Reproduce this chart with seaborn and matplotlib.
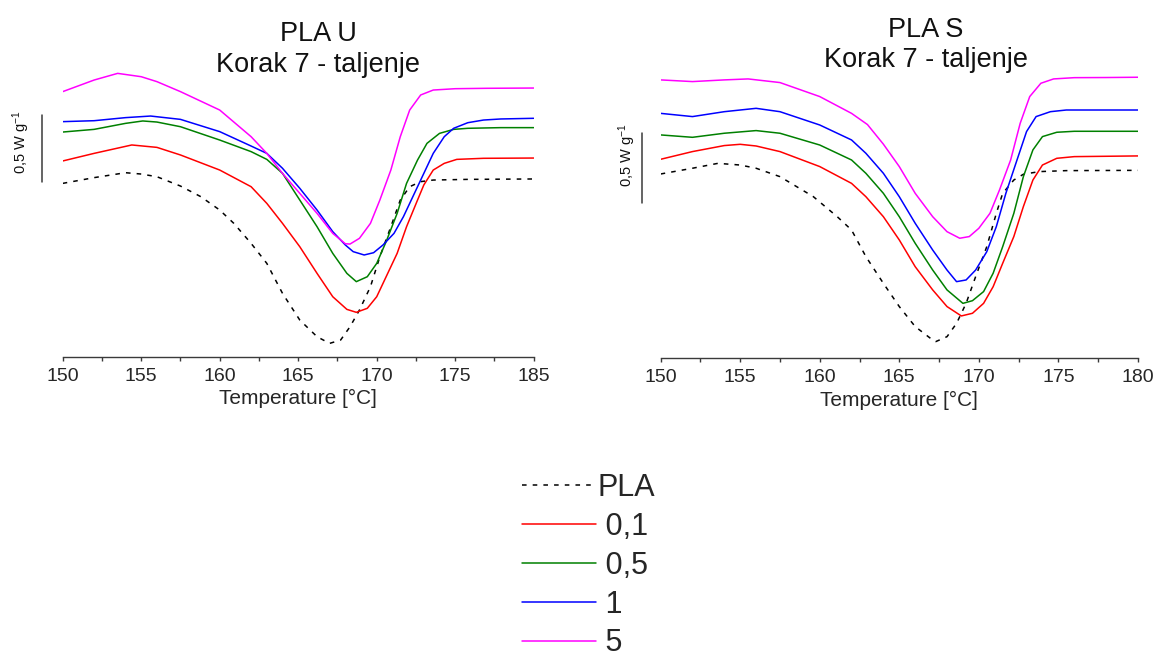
import matplotlib
matplotlib.use("Agg")
import matplotlib.pyplot as plt
import matplotlib.transforms as mtransforms
from matplotlib.ticker import FixedLocator
import seaborn as sns

# ---------------- data: heat flow (W/g, arbitrary offset) vs temperature (°C) ----------------
# Left panel: PLA U
u_pla_x = [150, 152, 154, 155, 156, 157.5, 158.8, 160, 160.9, 162, 163, 164, 165.1, 166.2, 167,
           167.7, 168.3, 168.9, 169.6, 170.2, 170.9, 171.5, 172.1, 172.8, 173.6, 175.8, 180]
u_pla_y = [1.25, 1.293, 1.33, 1.32, 1.3, 1.23, 1.15, 1.05, 0.95, 0.8, 0.65, 0.425, 0.225, 0.1, 0.05,
           0.075, 0.175, 0.3, 0.475, 0.7, 0.925, 1.125, 1.225, 1.263, 1.275, 1.28, 1.283]
u_01_x = [150, 152, 154.4, 156, 157.5, 160, 162, 163, 164, 165.1, 166.2, 167.2, 168.1, 168.7,
          169.4, 170, 170.6, 171.3, 171.9, 172.6, 173, 173.6, 174.3, 175.1, 176.8, 180]
u_01_y = [1.418, 1.475, 1.538, 1.52, 1.463, 1.35, 1.225, 1.1, 0.95, 0.775, 0.575, 0.4, 0.305, 0.283,
          0.313, 0.4, 0.55, 0.725, 0.925, 1.125, 1.238, 1.35, 1.4, 1.43, 1.438, 1.44]
u_05_x = [150, 152, 154, 155.1, 156, 157.5, 160, 162, 163, 164, 165.1, 166.2, 167.2, 168.1, 168.7,
          169.4, 170, 170.6, 171.3, 171.9, 172.6, 173.2, 174, 174.9, 175.8, 177.9, 180]
u_05_y = [1.635, 1.655, 1.7, 1.718, 1.71, 1.675, 1.575, 1.488, 1.43, 1.325, 1.125, 0.925, 0.725, 0.575, 0.513,
          0.55, 0.65, 0.813, 1.025, 1.25, 1.425, 1.55, 1.625, 1.655, 1.663, 1.668, 1.668]
u_1_x = [150, 152, 154, 155.6, 157.5, 160, 162, 163, 164, 165.1, 166.2, 167.2, 168, 168.5, 169.2,
         169.8, 170.4, 171.1, 171.7, 172.3, 173, 173.6, 174.3, 174.9, 175.8, 176.8, 177.9, 180]
u_1_y = [1.713, 1.72, 1.743, 1.755, 1.73, 1.638, 1.53, 1.475, 1.363, 1.213, 1.05, 0.888, 0.788, 0.738, 0.713,
         0.73, 0.788, 0.875, 1.0, 1.15, 1.325, 1.475, 1.6, 1.663, 1.705, 1.725, 1.733, 1.738]
u_5_x = [150, 152, 153.5, 155, 156, 157.5, 160, 162, 163, 164, 165.1, 166.2, 167.2, 168, 168.3,
         168.9, 169.6, 170.2, 170.9, 171.5, 172.1, 172.8, 173.6, 175, 177, 180]
u_5_y = [1.938, 2.025, 2.075, 2.05, 2.013, 1.938, 1.8, 1.6, 1.475, 1.325, 1.175, 1.025, 0.875, 0.797, 0.795,
         0.838, 0.95, 1.125, 1.35, 1.6, 1.8, 1.913, 1.95, 1.96, 1.963, 1.965]

# Right panel: PLA S
s_pla_x = [150, 152, 153.6, 155, 156, 157.5, 159.6, 161.1, 162, 162.9, 164, 165, 166, 167.1, 167.3,
           168, 168.6, 169.2, 169.8, 170.5, 171.1, 171.5, 172.2, 172.8, 173.8, 175.5, 180]
s_pla_y = [1.257, 1.298, 1.333, 1.321, 1.298, 1.238, 1.095, 0.952, 0.857, 0.667, 0.476, 0.31, 0.167, 0.071, 0.06,
           0.095, 0.19, 0.333, 0.524, 0.738, 0.976, 1.119, 1.214, 1.255, 1.274, 1.281, 1.283]
s_01_x = [150, 152, 154, 155, 156, 157.5, 160, 162, 162.9, 164, 165, 166, 167.1, 168, 168.9,
          169.6, 170.3, 170.9, 171.5, 172.2, 172.8, 173.4, 174, 174.9, 176, 177.6, 180]
s_01_y = [1.362, 1.417, 1.46, 1.469, 1.457, 1.417, 1.31, 1.19, 1.095, 0.952, 0.786, 0.595, 0.429, 0.31, 0.243,
          0.262, 0.333, 0.452, 0.619, 0.81, 1.024, 1.214, 1.321, 1.369, 1.381, 1.383, 1.386]
s_05_x = [150, 152, 154, 156, 157.5, 160, 162, 162.9, 164, 165, 166, 167.1, 168, 169, 169.6,
          170.3, 170.9, 171.5, 172.2, 172.8, 173.4, 174, 174.9, 176, 180]
s_05_y = [1.536, 1.519, 1.548, 1.567, 1.548, 1.464, 1.357, 1.262, 1.119, 0.952, 0.762, 0.571, 0.429, 0.333, 0.352,
          0.417, 0.548, 0.738, 0.976, 1.238, 1.429, 1.524, 1.555, 1.562, 1.562]
s_1_x = [150, 152, 154, 156, 157.5, 160, 162, 162.9, 164, 165, 166, 167.1, 168, 168.6, 169.2,
         169.8, 170.5, 171.1, 171.7, 172.4, 173, 173.6, 174.5, 175.5, 180]
s_1_y = [1.69, 1.667, 1.702, 1.726, 1.702, 1.607, 1.5, 1.405, 1.262, 1.095, 0.905, 0.714, 0.571, 0.488, 0.5,
         0.571, 0.702, 0.881, 1.119, 1.357, 1.56, 1.667, 1.702, 1.714, 1.714]
s_5_x = [150, 152, 154, 155.5, 157.5, 160, 162, 163, 164, 165, 166, 167.1, 168, 168.8, 169.4,
         170, 170.7, 171.3, 172, 172.6, 173.2, 173.9, 174.7, 176, 178, 180]
s_5_y = [1.929, 1.917, 1.929, 1.936, 1.91, 1.81, 1.69, 1.61, 1.47, 1.31, 1.119, 0.952, 0.845, 0.798, 0.81,
         0.869, 0.976, 1.143, 1.357, 1.619, 1.81, 1.905, 1.936, 1.945, 1.946, 1.948]

series_labels = ["PLA", " 0,1", " 0,5", " 1", " 5"]
series_colors = ["#000000", "#FF0000", "#008000", "#0000FF", "#FF00FF"]

x_ticks = [150, 155, 160, 165, 170, 175, 180]
u_tick_labels = ["150", "155", "160", "165", "170", "175", "185"]
s_tick_labels = ["150", "155", "160", "165", "170", "175", "180"]
titles = [("PLA U", "Korak 7 - taljenje"), ("PLA S", "Korak 7 - taljenje")]
x_label = "Temperature [°C]"
scale_text = "0,5 W g$^{-1}$"
scale_len = 0.5

# ---------------- style ----------------
sns.set_theme(style="white")
plt.rcParams['font.family'] = ['Liberation Sans', 'DejaVu Sans']
plt.rcParams['mathtext.default'] = 'regular'

FIG_H = 659.0
fig = plt.figure(figsize=(11.57, 6.59), dpi=100)
axL = fig.add_axes([0.0542, 0.4587, 0.4071, 0.4502])
axR = fig.add_axes([0.5710, 0.4563, 0.4125, 0.4527])

panels = [
    dict(ax=axL, data=[(u_pla_x, u_pla_y), (u_01_x, u_01_y), (u_05_x, u_05_y), (u_1_x, u_1_y), (u_5_x, u_5_y)],
         ylim=(-0.05, 2.175), ticklabels=u_tick_labels, title=titles[0],
         bar_x=-0.0446, bar_y0=1.2625, txt_x=-0.0875, txt_y=1.56,
         title_x=0.542, title_px=(40.7, 71.7)),
    dict(ax=axR, data=[(s_pla_x, s_pla_y), (s_01_x, s_01_y), (s_05_x, s_05_y), (s_1_x, s_1_y), (s_5_x, s_5_y)],
         ylim=(-0.0595, 2.0714), ticklabels=s_tick_labels, title=titles[1],
         bar_x=-0.039, bar_y0=1.048, txt_x=-0.0706, txt_y=1.388,
         title_x=0.556, title_px=(36.7, 67.3)),
]

for p in panels:
    ax = p["ax"]
    for (xs, ys), lab, col in zip(p["data"], series_labels, series_colors):
        ls = (0, (3, 4)) if lab == "PLA" else "-"
        sns.lineplot(x=xs, y=ys, ax=ax, color=col, linewidth=1.1, linestyle=ls,
                     label=lab, sort=False, estimator=None)
    if ax.get_legend() is not None:
        ax.get_legend().remove()
    ax.set_xlim(150, 180)
    ax.set_ylim(*p["ylim"])
    for s in ["left", "top", "right"]:
        ax.spines[s].set_visible(False)
    ax.spines["bottom"].set_color("#3a3a3a")
    ax.spines["bottom"].set_linewidth(1.0)
    ax.xaxis.set_major_locator(FixedLocator(x_ticks))
    ax.set_xticklabels(p["ticklabels"])
    ax.xaxis.set_minor_locator(FixedLocator([152.5, 157.5, 162.5, 167.5, 172.5, 177.5]))
    ax.tick_params(axis="x", which="both", bottom=True, direction="out", length=3,
                   width=1, color="#3a3a3a", labelsize=14, pad=5)
    ax.tick_params(axis="y", left=False, labelleft=False)
    ax.set_yticks([])
    ax.set_xlabel(x_label, fontsize=15, labelpad=3)
    ax.set_ylabel("")
    ax.set_facecolor("none")
    # scale bar (0.5 W/g in data units)
    tr = mtransforms.blended_transform_factory(ax.transAxes, ax.transData)
    ax.plot([p["bar_x"], p["bar_x"]], [p["bar_y0"], p["bar_y0"] + scale_len], transform=tr,
            color="#3a3a3a", lw=1.1, clip_on=False)
    ax.text(p["txt_x"], p["txt_y"], scale_text, transform=tr, rotation=90, ha="center",
            va="center", fontsize=10.5, color="#111111")
    # two-line title
    pos = ax.get_position()
    bottom_px = FIG_H * (1 - pos.y0)
    h_px = FIG_H * pos.height
    for line, ypx in zip(p["title"], p["title_px"]):
        ax.text(p["title_x"], (bottom_px - ypx) / h_px, line, transform=ax.transAxes,
                ha="center", va="baseline", fontsize=19.5, color="#111111")

handles, labels = axL.get_legend_handles_labels()
fig.legend(handles, labels, loc="upper left", bbox_to_anchor=(521.7 / 1157, 1 - 473 / 659),
           frameon=False, fontsize=22, handlelength=2.42, handletextpad=0.05,
           labelspacing=0.29, borderpad=0, borderaxespad=0)

fig.savefig("out.png", dpi=100)
